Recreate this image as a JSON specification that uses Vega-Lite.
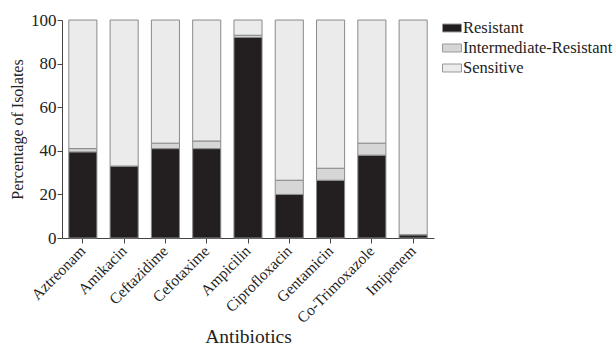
{
  "$schema": "https://vega.github.io/schema/vega-lite/v6.json",
  "autosize": "none",
  "width": 372,
  "height": 218,
  "padding": {"left": 62, "top": 20, "right": 182, "bottom": 110},
  "background": "white",
  "config": {
    "font": "Liberation Serif",
    "view": {"stroke": null}
  },
  "data": {
    "values": [
      {"antibiotic": "Aztreonam", "category": "Resistant", "value": 39.5},
      {"antibiotic": "Aztreonam", "category": "Intermediate-Resistant", "value": 1.5},
      {"antibiotic": "Aztreonam", "category": "Sensitive", "value": 59},
      {"antibiotic": "Amikacin", "category": "Resistant", "value": 33},
      {"antibiotic": "Amikacin", "category": "Intermediate-Resistant", "value": 0},
      {"antibiotic": "Amikacin", "category": "Sensitive", "value": 67},
      {"antibiotic": "Ceftazidime", "category": "Resistant", "value": 41},
      {"antibiotic": "Ceftazidime", "category": "Intermediate-Resistant", "value": 2.5},
      {"antibiotic": "Ceftazidime", "category": "Sensitive", "value": 56.5},
      {"antibiotic": "Cefotaxime", "category": "Resistant", "value": 41},
      {"antibiotic": "Cefotaxime", "category": "Intermediate-Resistant", "value": 3.5},
      {"antibiotic": "Cefotaxime", "category": "Sensitive", "value": 55.5},
      {"antibiotic": "Ampicilin", "category": "Resistant", "value": 92},
      {"antibiotic": "Ampicilin", "category": "Intermediate-Resistant", "value": 1},
      {"antibiotic": "Ampicilin", "category": "Sensitive", "value": 7},
      {"antibiotic": "Ciprofloxacin", "category": "Resistant", "value": 20},
      {"antibiotic": "Ciprofloxacin", "category": "Intermediate-Resistant", "value": 6.5},
      {"antibiotic": "Ciprofloxacin", "category": "Sensitive", "value": 73.5},
      {"antibiotic": "Gentamicin", "category": "Resistant", "value": 26.5},
      {"antibiotic": "Gentamicin", "category": "Intermediate-Resistant", "value": 5.5},
      {"antibiotic": "Gentamicin", "category": "Sensitive", "value": 68},
      {"antibiotic": "Co-Trimoxazole", "category": "Resistant", "value": 38},
      {"antibiotic": "Co-Trimoxazole", "category": "Intermediate-Resistant", "value": 5.5},
      {"antibiotic": "Co-Trimoxazole", "category": "Sensitive", "value": 56.5},
      {"antibiotic": "Imipenem", "category": "Resistant", "value": 1.5},
      {"antibiotic": "Imipenem", "category": "Intermediate-Resistant", "value": 0},
      {"antibiotic": "Imipenem", "category": "Sensitive", "value": 98.5}
    ]
  },
  "transform": [
    {"calculate": "indexof(['Resistant','Intermediate-Resistant','Sensitive'], datum.category)", "as": "ord"}
  ],
  "mark": {"type": "bar", "stroke": "#8a8a8a", "strokeWidth": 1},
  "encoding": {
    "x": {
      "field": "antibiotic",
      "type": "nominal",
      "sort": null,
      "scale": {"paddingInner": 0.32, "paddingOuter": 0.165},
      "axis": {
        "title": "Antibiotics",
        "titleFont": "Liberation Serif",
        "titleFontSize": 19.5,
        "titleFontWeight": "normal",
        "titleColor": "#222",
        "titleBaseline": "alphabetic",
        "titleY": 104,
        "labelAngle": -45,
        "labelAlign": "right",
        "labelBaseline": "middle",
        "labelFontSize": 15.5,
        "labelColor": "#222",
        "labelPadding": 5,
        "domainColor": "#444",
        "tickColor": "#444",
        "tickSize": 5,
        "grid": false
      }
    },
    "y": {
      "field": "value",
      "type": "quantitative",
      "stack": "zero",
      "scale": {"domain": [0, 100], "nice": false},
      "axis": {
        "title": "Percentage of Isolates",
        "titleFont": "Liberation Serif",
        "titleFontSize": 16,
        "titleFontWeight": "normal",
        "titleColor": "#222",
        "titlePadding": 5,
        "values": [0, 20, 40, 60, 80, 100],
        "labelFontSize": 17,
        "labelColor": "#222",
        "labelPadding": 1,
        "domainColor": "#444",
        "tickColor": "#444",
        "tickSize": 5,
        "grid": false
      }
    },
    "color": {
      "field": "category",
      "type": "nominal",
      "sort": ["Resistant", "Intermediate-Resistant", "Sensitive"],
      "scale": {
        "domain": ["Resistant", "Intermediate-Resistant", "Sensitive"],
        "range": ["#231f20", "#d6d6d6", "#ebebeb"]
      },
      "legend": {
        "title": null,
        "orient": "none",
        "legendX": 380,
        "legendY": -2,
        "symbolType": "M-1,-0.42H1V0.42H-1Z",
        "symbolSize": 361,
        "symbolStrokeColor": "#999",
        "symbolStrokeWidth": 1,
        "labelFontSize": 16.5,
        "labelColor": "#222",
        "labelOffset": 1,
        "rowPadding": 1
      }
    },
    "order": {"field": "ord", "type": "quantitative", "sort": "ascending"}
  }
}
